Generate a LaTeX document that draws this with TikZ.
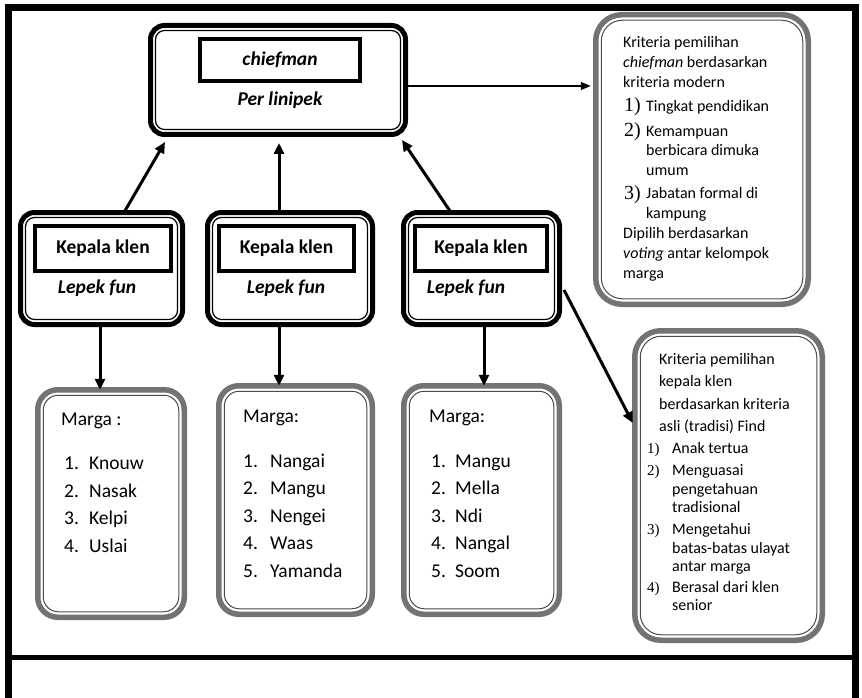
\documentclass[tikz,border=0pt]{standalone}
\usepackage{fontspec}
\setmainfont{Carlito}
\newfontfamily\numfont{Liberation Serif}
\usetikzlibrary{arrows.meta}
\begin{document}
\begin{tikzpicture}[x=1pt,y=-1pt,
 frame/.style={line width=7pt, draw=black},
 boxA/.style={draw=black, fill=white, line width=5pt, rounded corners=14pt, outer sep=0pt, inner sep=0pt},
 innerA/.style={draw=black, line width=1.2pt, rounded corners=9pt},
 boxB/.style={draw=black!55, fill=white, line width=5.5pt, rounded corners=20pt, outer sep=0pt, inner sep=0pt},
 innerB/.style={draw=black!70, line width=1pt, rounded corners=15pt},
 namebox/.style={draw=black, line width=3.5pt, fill=white, inner sep=0pt, outer sep=0pt, font=\fontsize{19.5}{23}\selectfont\bfseries},
 sublbl/.style={font=\fontsize{19.5}{23}\selectfont\bfseries\itshape, inner sep=0pt},
 marga/.style={font=\fontsize{19.5}{23}\selectfont, anchor=west, inner sep=0pt, text height=14pt, text depth=4pt},
 crit/.style={font=\fontsize{16}{20}\selectfont, anchor=west, inner sep=0pt, text height=12pt, text depth=3.5pt},
 numA/.style={font=\numfont\fontsize{20}{22}\selectfont, anchor=west, inner sep=0pt, text height=14pt, text depth=4pt},
 numB/.style={font=\numfont\fontsize{15}{18}\selectfont, anchor=west, inner sep=0pt, text height=11pt, text depth=3pt},
 arr/.style={line width=3pt, -{Triangle[length=11pt,width=10pt]}},
 thinarr/.style={line width=1.3pt, -{Triangle[length=10pt,width=8pt]}},
]
\useasboundingbox (0,0) rectangle (862,698);
\fill[white] (0,0) rectangle (862,698);
% frame
\draw[frame] (8.5,705) -- (8.5,7.5) -- (855.5,7.5) -- (855.5,705);
\draw[line width=5pt] (8.5,657.5) -- (855.5,657.5);

% chiefman box
\node[boxA, minimum width=255pt, minimum height=109pt] (chief) at (278,80) {};
\draw[innerA] ([shift={(5,5)}]chief.north west) rectangle ([shift={(-5,-5)}]chief.south east);
\node[namebox, minimum width=160pt, minimum height=42pt, font=\fontsize{19.5}{23}\selectfont\bfseries\itshape] (chiefname) at (280,60) {chiefman};
\node[sublbl] (chiefsub) at (280,100) {Per linipek};

% kepala klen boxes
\node[boxA, minimum width=162pt, minimum height=112pt] (k1) at (101.5,268.5) {};
\node[boxA, minimum width=165pt, minimum height=112pt] (k2) at (290,268.5) {};
\node[boxA, minimum width=156pt, minimum height=112pt] (k3) at (481.5,268.5) {};
\foreach \k in {k1,k2,k3}{
  \draw[innerA] ([shift={(5,5)}]\k.north west) rectangle ([shift={(-5,-5)}]\k.south east);
}
\node[namebox, minimum width=136pt, minimum height=45pt] (k1name) at (103,248.5) {Kepala klen};
\node[namebox, minimum width=135pt, minimum height=45pt] (k2name) at (286.5,248.5) {Kepala klen};
\node[namebox, minimum width=132pt, minimum height=45pt] (k3name) at (481,248.5) {Kepala klen};
\node[sublbl] (k1sub) at (97,288) {Lepek fun};
\node[sublbl] (k2sub) at (286,288) {Lepek fun};
\node[sublbl] (k3sub) at (466,288) {Lepek fun};

% marga boxes
\node[boxB, minimum width=146.5pt, minimum height=227.5pt] (m1) at (111,503.5) {};
\node[boxB, minimum width=153.5pt, minimum height=228.5pt] (m2) at (295.5,500) {};
\node[boxB, minimum width=155.5pt, minimum height=228.5pt] (m3) at (481.5,500) {};
% criteria boxes
\node[boxB, minimum width=212.5pt, minimum height=289.5pt, rounded corners=26pt] (c1) at (702,159.5) {};
\node[boxB, minimum width=187.5pt, minimum height=309.5pt, rounded corners=26pt] (c2) at (728.5,485.5) {};
\foreach \m in {m1,m2,m3}{
  \draw[innerB] ([shift={(5.5,5.5)}]\m.north west) rectangle ([shift={(-5.5,-5.5)}]\m.south east);
}
\foreach \m in {c1,c2}{
  \draw[innerB, rounded corners=21pt] ([shift={(5.5,5.5)}]\m.north west) rectangle ([shift={(-5.5,-5.5)}]\m.south east);
}

% marga texts
\node[marga] (m1h) at (61,420) {Marga :};
\node[marga] (m1n1) at (64,464) {1.};\node[marga] (m1t1) at (89,464) {Knouw};
\node[marga] (m1n2) at (64,492) {2.};\node[marga] (m1t2) at (89,492) {Nasak};
\node[marga] (m1n3) at (64,519) {3.};\node[marga] (m1t3) at (89,519) {Kelpi};
\node[marga] (m1n4) at (64,547) {4.};\node[marga] (m1t4) at (89,547) {Uslai};

\node[marga] (m2h) at (243,417) {Marga:};
\node[marga] (m2n1) at (243,462) {1.};\node[marga] (m2t1) at (270,462) {Nangai};
\node[marga] (m2n2) at (243,489) {2.};\node[marga] (m2t2) at (270,489) {Mangu};
\node[marga] (m2n3) at (243,517) {3.};\node[marga] (m2t3) at (270,517) {Nengei};
\node[marga] (m2n4) at (243,544) {4.};\node[marga] (m2t4) at (270,544) {Waas};
\node[marga] (m2n5) at (243,572) {5.};\node[marga] (m2t5) at (270,572) {Yamanda};

\node[marga] (m3h) at (429,417) {Marga:};
\node[marga] (m3n1) at (431,462) {1.};\node[marga] (m3t1) at (455,462) {Mangu};
\node[marga] (m3n2) at (431,489) {2.};\node[marga] (m3t2) at (455,489) {Mella};
\node[marga] (m3n3) at (431,517) {3.};\node[marga] (m3t3) at (455,517) {Ndi};
\node[marga] (m3n4) at (431,544) {4.};\node[marga] (m3t4) at (455,544) {Nangal};
\node[marga] (m3n5) at (431,572) {5.};\node[marga] (m3t5) at (455,572) {Soom};

% criteria 1 texts
\node[crit] (c1a) at (623,43) {Kriteria pemilihan};
\node[crit] (c1b) at (623,63) {\textit{chiefman} berdasarkan};
\node[crit] (c1c) at (623,83) {kriteria modern};
\node[numA] (c1n1) at (624,107) {1)};\node[crit] (c1d) at (646,107) {Tingkat pendidikan};
\node[numA] (c1n2) at (624,132) {2)};\node[crit] (c1e) at (646,132) {Kemampuan};
\node[crit] (c1f) at (646,151) {berbicara dimuka};
\node[crit] (c1g) at (646,171) {umum};
\node[numA] (c1n3) at (624,194) {3)};\node[crit] (c1h) at (646,194) {Jabatan formal di};
\node[crit] (c1i) at (646,214) {kampung};
\node[crit] (c1j) at (623,234) {Dipilih berdasarkan};
\node[crit] (c1k) at (623,254) {\textit{voting} antar kelompok};
\node[crit] (c1l) at (623,274) {marga};

% criteria 2 texts
\node[crit] (c2a) at (659,360) {Kriteria pemilihan};
\node[crit] (c2b) at (659,382) {kepala klen};
\node[crit] (c2c) at (659,405) {berdasarkan kriteria};
\node[crit] (c2d) at (659,427) {asli (tradisi) Find};
\node[numB] (c2n1) at (647,449) {1)};\node[crit] (c2e) at (672,449) {Anak tertua};
\node[numB] (c2n2) at (647,471) {2)};\node[crit] (c2f) at (672,471) {Menguasai};
\node[crit] (c2g) at (672,490) {pengetahuan};
\node[crit] (c2h) at (672,508) {tradisional};
\node[numB] (c2n3) at (647,530) {3)};\node[crit] (c2i) at (672,530) {Mengetahui};
\node[crit] (c2j) at (672,549) {batas-batas ulayat};
\node[crit] (c2k) at (672,567) {antar marga};
\node[numB] (c2n4) at (647,588) {4)};\node[crit] (c2l) at (672,588) {Berasal dari klen};
\node[crit] (c2m) at (672,606) {senior};

% arrows
\draw[arr] ([xshift=22.5pt]k1.north) -- ([xshift=-113pt,yshift=-7.5pt]chief.south);
\draw[arr] ([xshift=-11pt]k2.north) -- ([xshift=1pt,yshift=-8.5pt]chief.south);
\draw[arr] ([xshift=-30.5pt]k3.north) -- ([xshift=124pt,yshift=-5.5pt]chief.south);
\draw[arr] ([xshift=-1.5pt]k1.south) -- ([xshift=-11pt]m1.north);
\draw[arr] ([xshift=-11pt]k2.south) -- ([xshift=-16.5pt]m2.north);
\draw[arr] ([xshift=2.5pt]k3.south) -- ([xshift=2.5pt]m3.north);
\draw[arr] ([xshift=4.5pt,yshift=-21.5pt]k3.east) -- ([xshift=-2pt,yshift=62.5pt]c2.west);
\coordinate (a1) at ([yshift=-6pt]chief.east);
\draw[thinarr] (a1) -- ([xshift=-5pt]a1 -| c1.west);
\end{tikzpicture}
\end{document}
